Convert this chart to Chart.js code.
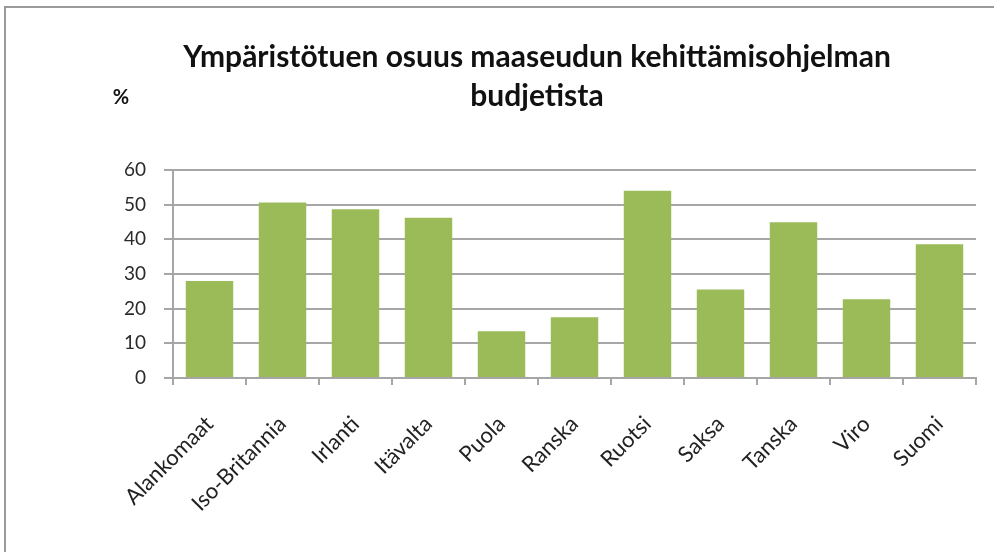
<!DOCTYPE html>
<html>
<head>
<meta charset="utf-8">
<script src="https://cdn.jsdelivr.net/npm/chart.js@4.4.0/dist/chart.umd.min.js"></script>
<style>
  html, body { margin: 0; padding: 0; background: #fff; overflow: hidden; width: 994px; height: 552px; }
  #frame { position: absolute; left: 4px; top: 6px; width: 990px; height: 546px; border-top: 2px solid #9a9a9a; border-left: 2px solid #9a9a9a; box-sizing: border-box; }
  #wrap { position: absolute; left: 0; top: 0; width: 994px; height: 552px; }
</style>
</head>
<body>
<div id="frame"></div>
<div id="wrap"><canvas id="chart"></canvas></div>
<script>
const countries = ['Alankomaat', 'Iso-Britannia', 'Irlanti', 'Itävalta', 'Puola', 'Ranska',
  'Ruotsi', 'Saksa', 'Tanska', 'Viro', 'Suomi'];
const sharePercent = [28.0, 50.6, 48.7, 46.2, 13.5, 17.5, 54.0, 25.5, 44.9, 22.7, 38.6];
const titleLines = ['Ympäristötuen osuus maaseudun kehittämisohjelman', 'budjetista'];
const unitLabel = '%';

const FONT = "Lato, 'Open Sans', sans-serif";
const GRID = '#a6a6a6';

// draws the little "%" unit text left of the title
const unitPlugin = {
  id: 'unitLabel',
  afterDraw(chart) {
    const { ctx, chartArea } = chart;
    ctx.save();
    ctx.font = "bold 20px " + FONT;
    ctx.fillStyle = '#111';
    ctx.textAlign = 'center';
    ctx.textBaseline = 'middle';
    ctx.fillText(unitLabel, chartArea.left - 52, chartArea.top - 72);
    ctx.restore();
  }
};

const ctx = document.getElementById('chart');
new Chart(ctx, {
  type: 'bar',
  data: {
    labels: countries,
    datasets: [{
      data: sharePercent,
      backgroundColor: '#9bbb59',
      borderWidth: 0,
      categoryPercentage: 1,
      barPercentage: 0.65
    }]
  },
  options: {
    responsive: true,
    maintainAspectRatio: false,
    animation: false,
    layout: { padding: { left: 98, right: 18, top: 0, bottom: 0 } },
    plugins: {
      legend: { display: false },
      tooltip: { enabled: false },
      title: {
        display: true,
        text: titleLines,
        color: '#111',
        font: { family: FONT, size: 30, weight: 'bold', lineHeight: 1.3 },
        padding: { top: 38, bottom: 54 }
      }
    },
    scales: {
      y: {
        min: 0,
        max: 60,
        ticks: { stepSize: 10, color: '#2a2a2a', font: { family: FONT, size: 19 }, padding: 18 },
        grid: { color: GRID, lineWidth: 2, tickLength: 9 },
        border: { color: GRID, width: 2 },
        afterFit(scale) { scale.width = 75; }
      },
      x: {
        offset: true,
        ticks: { color: '#222', font: { family: FONT, size: 22 }, maxRotation: 45, minRotation: 45, padding: 26 },
        grid: { color: GRID, lineWidth: 2, drawOnChartArea: false, tickLength: 7, offset: true },
        border: { color: GRID, width: 2 },
        afterFit(scale) { scale.height = 174; }
      }
    }
  },
  plugins: [unitPlugin]
});
</script>
</body>
</html>
